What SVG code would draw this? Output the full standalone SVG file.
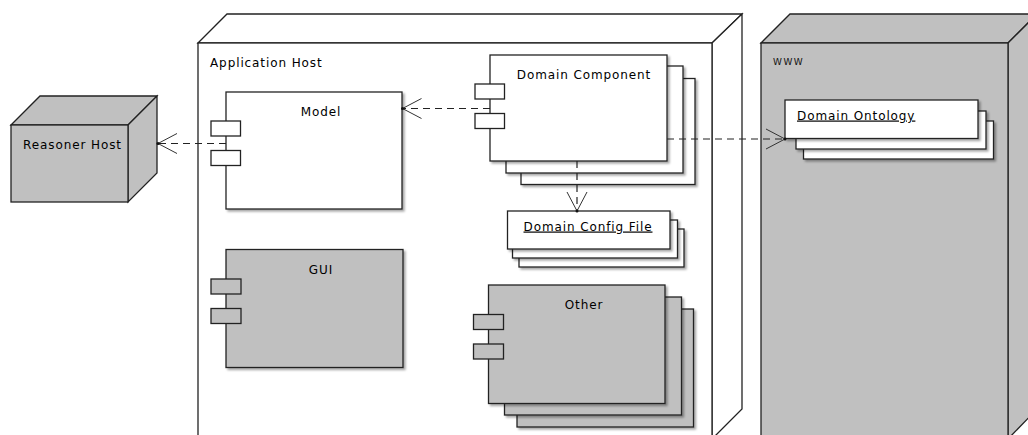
<svg xmlns="http://www.w3.org/2000/svg" width="1028" height="435" viewBox="0 0 1028 435">
<defs>
<style>
.nd{stroke:#222;stroke-width:1.3;stroke-linejoin:miter}
.g{fill:#c0c0c0}
.w{fill:#fff}
.t{font-family:"DejaVu Sans",sans-serif;font-size:12px;letter-spacing:0.9px;fill:#000}
.c{text-anchor:middle}
.u{text-decoration:underline}
.dash{fill:none;stroke:#222;stroke-width:1.2;stroke-dasharray:7,5}
.sh{filter:url(#shadow)}
</style>
<filter id="shadow" x="-10%" y="-10%" width="130%" height="130%">
<feDropShadow dx="2" dy="2" stdDeviation="1" flood-color="#000" flood-opacity="0.35"/>
</filter>
<marker id="open" markerUnits="userSpaceOnUse" markerWidth="22" markerHeight="24" refX="19" refY="10" orient="auto" overflow="visible">
<path d="M0,0 L19,10 L0,20" fill="none" stroke="#333" stroke-width="1" stroke-dasharray="none"/>
<circle cx="19" cy="10" r="1.5" fill="#111"/>
</marker>
</defs>
<rect width="1028" height="435" fill="#fff"/>

<g id="reasoner-host">
<polygon class="nd g" points="11,125 40,96 157,96 128,125"/>
<polygon class="nd g" points="128,125 157,96 157,173 128,202"/>
<rect class="nd g" x="11" y="125" width="117" height="77"/>
<text class="t" x="23" y="149">Reasoner Host</text>
</g>

<g id="application-host">
<polygon class="nd w" points="198,43 227,14 742,14 712,43"/>
<polygon class="nd w" points="712,43 742,14 742,409 712,439"/>
<rect class="nd w" x="198" y="43" width="514" height="396"/>
<text class="t" x="210" y="67">Application Host</text>
</g>

<g id="www">
<polygon class="nd g" points="761,43 790,14 1037,14 1008,43"/>
<polygon class="nd g" points="1008,43 1037,14 1037,409 1008,439"/>
<rect class="nd g" x="761" y="43" width="247" height="396"/>
<text x="773" y="65" font-family="DejaVu Sans, sans-serif" font-size="9" letter-spacing="1.5" fill="#111">WWW</text>
</g>

<g id="model">
<rect class="nd w sh" x="226" y="92" width="176" height="117"/>
<rect class="nd w" x="211" y="121" width="29.5" height="15"/>
<rect class="nd w" x="211" y="150.5" width="29.5" height="15"/>
<text class="t c" x="321" y="116">Model</text>
</g>

<g id="gui">
<rect class="nd g sh" x="226" y="249.5" width="177" height="118"/>
<rect class="nd g" x="211" y="279" width="30" height="15"/>
<rect class="nd g" x="211" y="308.5" width="30" height="15"/>
<text class="t c" x="321" y="274">GUI</text>
</g>

<g id="domain-component">
<rect class="nd w sh" x="521" y="78.5" width="174" height="106"/>
<rect class="nd w sh" x="506" y="66" width="177" height="107"/>
<rect class="nd w sh" x="490" y="55" width="177" height="106"/>
<rect class="nd w" x="475" y="84" width="29.5" height="15"/>
<rect class="nd w" x="475" y="113.5" width="29.5" height="15"/>
<text class="t c" x="584" y="78.5">Domain Component</text>
</g>

<g id="domain-config-file">
<rect class="nd w sh" x="519" y="229" width="165" height="38"/>
<rect class="nd w sh" x="512.5" y="220" width="165" height="38"/>
<rect class="nd w sh" x="507.5" y="211" width="162.5" height="38"/>
<text class="t c u" x="588" y="230.5">Domain Config File</text>
</g>

<g id="other">
<rect class="nd g sh" x="517" y="309" width="176.5" height="118"/>
<rect class="nd g sh" x="504.5" y="297" width="177" height="118"/>
<rect class="nd g sh" x="488.5" y="285" width="176.5" height="118.5"/>
<rect class="nd g" x="473.5" y="314.5" width="30" height="15"/>
<rect class="nd g" x="473.5" y="344" width="30" height="15"/>
<text class="t c" x="584" y="309">Other</text>
</g>

<g id="domain-ontology">
<rect class="nd w sh" x="803.5" y="121" width="190" height="38"/>
<rect class="nd w sh" x="796" y="111" width="190" height="38"/>
<rect class="nd w sh" x="785" y="100" width="193" height="38.5"/>
<text class="t u" x="797" y="119.5">Domain Ontology</text>
</g>

<g id="connectors">
<path class="dash" d="M226,143.5 H158" marker-end="url(#open)"/>
<path class="dash" d="M490,108.5 H402.5" marker-end="url(#open)"/>
<path class="dash" d="M577,161 V211" marker-end="url(#open)"/>
<path class="dash" d="M667,139 H785" marker-end="url(#open)"/>
</g>
</svg>
